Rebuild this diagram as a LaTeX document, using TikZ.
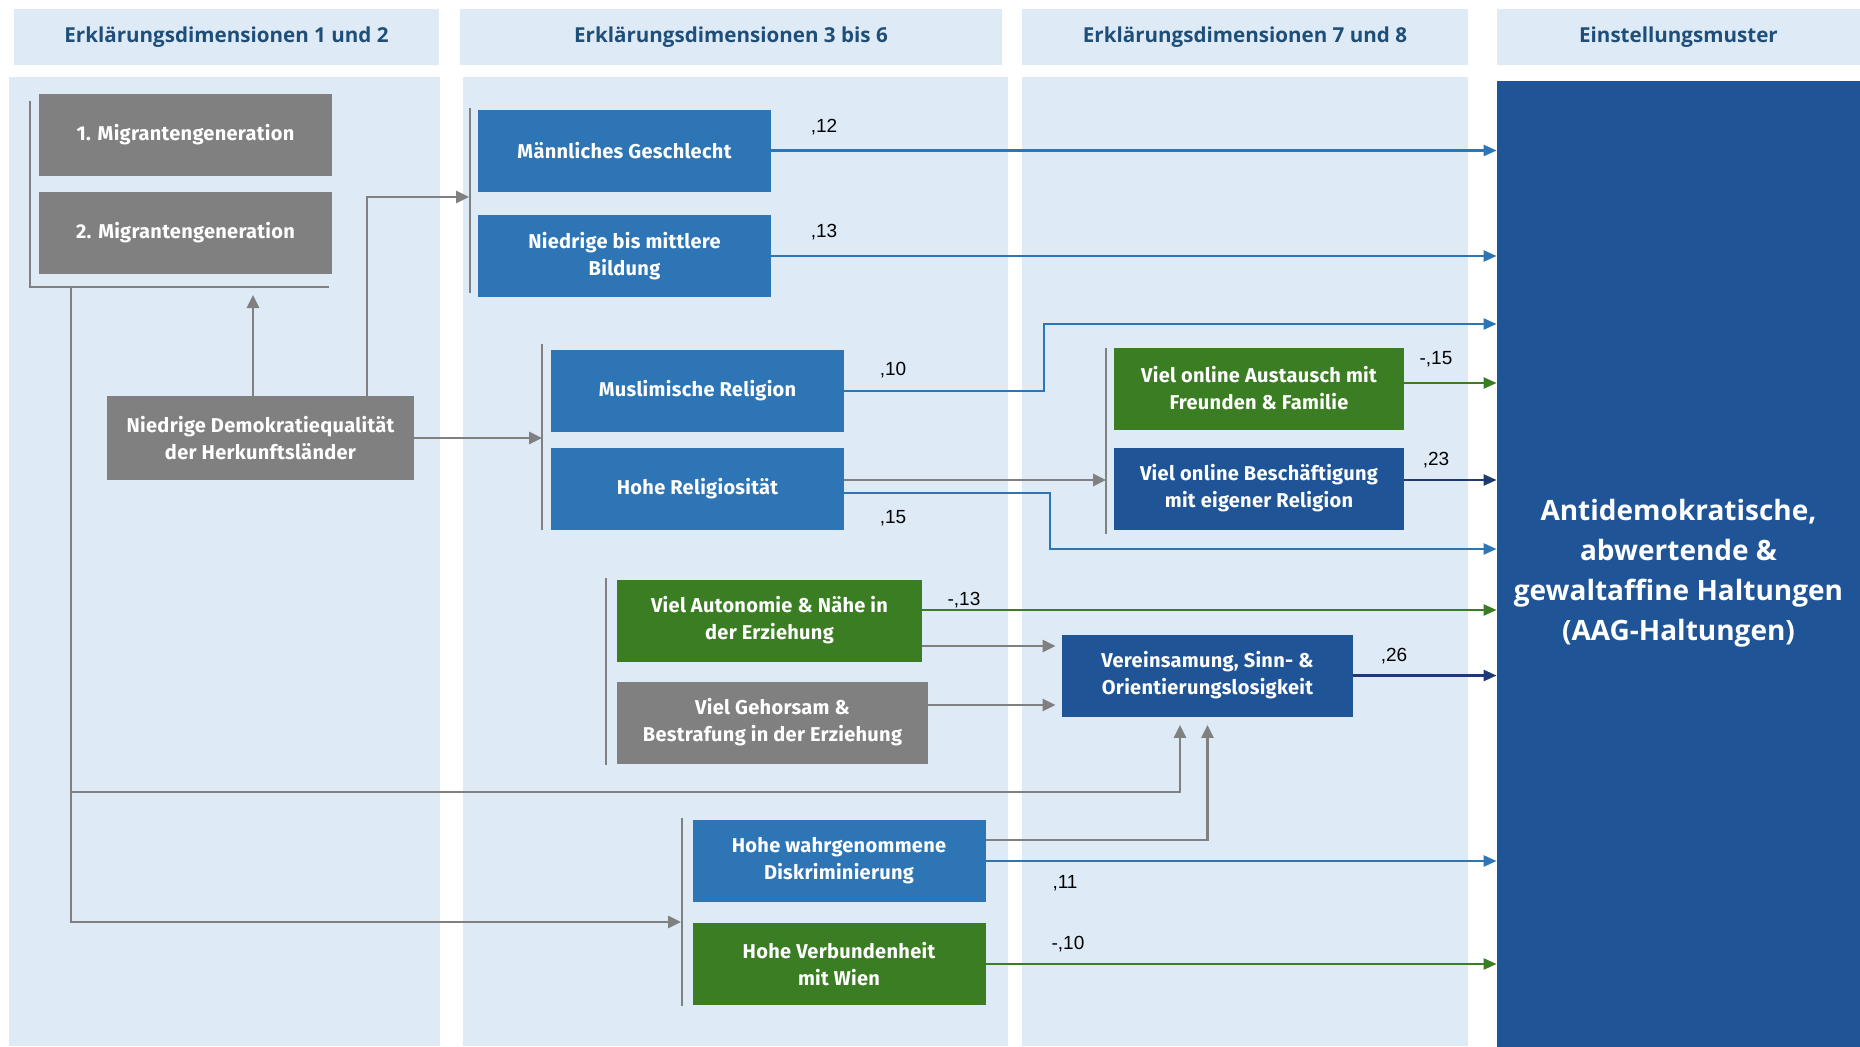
\documentclass[tikz,border=0pt]{standalone}
\usepackage{fontspec}
\usepackage{tikz}
\usetikzlibrary{arrows.meta,positioning}
\setmainfont{Liberation Sans}
\newfontfamily\boxfont{Fira Sans}[LetterSpace=1.5]
\newfontfamily\headfont{Open Sans}
\definecolor{PaleBlue}{HTML}{DEEBF7}
\definecolor{HeadNavy}{HTML}{1F4E79}
\definecolor{BoxGray}{HTML}{808080}
\definecolor{BoxBlue}{HTML}{2E75B6}
\definecolor{BoxGreen}{HTML}{3A7D22}
\definecolor{BoxNavy}{HTML}{1F5597}
\definecolor{LineNavy}{HTML}{1F3A6E}

\begin{document}
\begin{tikzpicture}[
  x=0.5pt, y=-0.5pt,
  factor/.style={
    rectangle,
    text=white,
    align=center,
    minimum width=146.5pt,
    minimum height=41pt,
    inner sep=2pt,
    font=\boxfont\bfseries\fontsize{10pt}{13.5pt}\selectfont
  },
  head/.style={
    fill=PaleBlue,
    text=HeadNavy,
    minimum height=28pt,
    inner sep=0pt,
    font=\headfont\bfseries\fontsize{10.3pt}{12pt}\selectfont
  },
  target/.style={
    fill=BoxNavy,
    text=white,
    align=center,
    minimum width=181.5pt,
    minimum height=492pt,
    inner sep=0pt,
    font=\headfont\bfseries\fontsize{14pt}{20pt}\selectfont
  },
  coef/.style={
    inner sep=0pt,
    font=\fontsize{9.5pt}{11pt}\selectfont
  },
  bracket/.style={
    draw=BoxGray,
    line width=1.4pt
  },
  feed/.style={
    -{Triangle[length=6.5pt,width=6pt]},
    line width=1.4pt,
    draw=BoxGray
  },
  pathblue/.style={
    -{Triangle[length=6.5pt,width=5.5pt]},
    line width=1.2pt,
    draw=BoxBlue
  },
  pathgreen/.style={
    -{Triangle[length=6.5pt,width=5.5pt]},
    line width=1.2pt,
    draw=BoxGreen
  },
  pathnavy/.style={
    -{Triangle[length=6.5pt,width=5.5pt]},
    line width=1.2pt,
    draw=LineNavy
  }
]
\useasboundingbox (0,0) rectangle (1860,1046);

% Column backgrounds
\fill[PaleBlue] (9,77) rectangle (440,1046);
\fill[PaleBlue] (463,77) rectangle (1008,1046);
\fill[PaleBlue] (1022,77) rectangle (1468,1046);

% Headers
\node[head, minimum width=212.5pt] (head1) at (226.5,37) {Erklärungsdimensionen 1 und 2};
\node[head, minimum width=271pt] (head2) at (731,37) {Erklärungsdimensionen 3 bis 6};
\node[head, minimum width=223pt] (head3) at (1245,37) {Erklärungsdimensionen 7 und 8};
\node[head, minimum width=181.5pt] (head4) at (1678.5,37) {Einstellungsmuster};

% Outcome
\node[target] (aag) at (1678.5,573)
  {Antidemokratische,\\abwertende \&\\gewaltaffine Haltungen\\(AAG-Haltungen)};

% Dimensions 1 and 2
\node[factor, fill=BoxGray] (gen1) at (185.5,135) {1. Migrantengeneration};
\node[factor, fill=BoxGray] (gen2) at (185.5,233) {2. Migrantengeneration};
\node[factor, fill=BoxGray, minimum width=153.5pt, minimum height=42pt]
  (demo) at (260.5,438) {Niedrige Demokratiequalität\\der Herkunftsländer};

% Dimensions 3 to 6
\node[factor, fill=BoxBlue] (maennl) at (624.5,150.5) {Männliches Geschlecht};
\node[factor, fill=BoxBlue] (bildung) at (624.5,256) {Niedrige bis mittlere\\Bildung};
\node[factor, fill=BoxBlue] (muslim) at (697.5,391) {Muslimische Religion};
\node[factor, fill=BoxBlue] (relig) at (697.5,488.5) {Hohe Religiosität};
\node[factor, fill=BoxGreen, minimum width=152.5pt]
  (autonomie) at (769.5,620.5) {Viel Autonomie \& Nähe in\\der Erziehung};
\node[factor, fill=BoxGray, minimum width=155.5pt]
  (gehorsam) at (772.5,722.5) {Viel Gehorsam \&\\Bestrafung in der Erziehung};
\node[factor, fill=BoxBlue] (diskr) at (839,861) {Hohe wahrgenommene\\Diskriminierung};
\node[factor, fill=BoxGreen] (wien) at (839,964) {Hohe Verbundenheit\\mit Wien};

% Dimensions 7 and 8
\node[factor, fill=BoxGreen, minimum width=145pt]
  (austausch) at (1259,388.5) {Viel online Austausch mit\\Freunden \& Familie};
\node[factor, fill=BoxNavy, minimum width=145pt]
  (beschaeft) at (1259,488.5) {Viel online Beschäftigung\\mit eigener Religion};
\node[factor, fill=BoxNavy, minimum width=145.5pt]
  (verein) at (1207.5,675.5) {Vereinsamung, Sinn- \&\\Orientierungslosigkeit};

% Brackets
\draw[bracket] (30,101) |- (329,287);
\coordinate (genstem) at (71,287);
\draw[bracket] (470,108) coordinate (brA) -- (470,293);
\draw[bracket] (542,344) coordinate (brB) -- (542,530);
\draw[bracket] (1106,348) coordinate (brC) -- (1106,534);
\draw[bracket] (606,578) coordinate (brD) -- (606,765);
\draw[bracket] (682,818) coordinate (brE) -- (682,1006);
\coordinate (brAin) at (469,197);
\coordinate (brEin) at (681,922);
\coordinate (genmid) at (71,792);
\coordinate (bendMus) at (1044,324);
\coordinate (bendRel) at (1050,549);

% Grey paths
\draw[feed, shorten >=4pt] ([xshift=-3.75pt]demo.north) -- ([xshift=-3.75pt]demo.north |- genstem);
\draw[feed] ([xshift=53.25pt]demo.north) |- (brAin);
\draw[feed] (demo.east) -- (demo.east -| brB);
\draw[feed] (genstem) |- (brEin);
\draw[feed] (genmid) -| ([xshift=-13.75pt,yshift=-4pt]verein.south);
\draw[feed] ([yshift=10.5pt]diskr.east) -| ([yshift=-4pt]verein.south);
\draw[feed] ([yshift=4.25pt]relig.east) -- ([yshift=4.25pt]relig.east -| brC);
\draw[feed, shorten >=3pt] ([yshift=-12.75pt]autonomie.east) -- ([yshift=-12.75pt]autonomie.east -| verein.west);
\draw[feed, shorten >=3pt] ([yshift=8.75pt]gehorsam.east) -- ([yshift=8.75pt]gehorsam.east -| verein.west);

% Effects on AAG
\draw[pathblue] (maennl.east) -- (maennl.east -| aag.west);
\draw[pathblue] (bildung.east) -- (bildung.east -| aag.west);
\draw[pathblue] (muslim.east) -| (bendMus) -- (bendMus -| aag.west);
\draw[pathblue] ([yshift=-2.25pt]relig.east) -| (bendRel) -- (bendRel -| aag.west);
\draw[pathgreen] ([yshift=2.75pt]austausch.east) -- ([yshift=2.75pt]austausch.east -| aag.west);
\draw[pathnavy] ([yshift=4.25pt]beschaeft.east) -- ([yshift=4.25pt]beschaeft.east -| aag.west);
\draw[pathgreen] ([yshift=5.25pt]autonomie.east) -- ([yshift=5.25pt]autonomie.east -| aag.west);
\draw[pathnavy] (verein.east) -- (verein.east -| aag.west);
\draw[pathblue] (diskr.east) -- (diskr.east -| aag.west);
\draw[pathgreen] (wien.east) -- (wien.east -| aag.west);

% Coefficients
\node[coef] (cMaennl) at (824,127) {,12};
\node[coef] (cBildung) at (824,232) {,13};
\node[coef] (cMuslim) at (893,370) {,10};
\node[coef] (cRelig) at (893,518) {,15};
\node[coef] (cAustausch) at (1436,359) {-,15};
\node[coef] (cBeschaeft) at (1436,460) {,23};
\node[coef] (cAutonomie) at (964,600) {-,13};
\node[coef] (cVerein) at (1394,656) {,26};
\node[coef] (cDiskr) at (1065,883) {,11};
\node[coef] (cWien) at (1068,944) {-,10};

\end{tikzpicture}
\end{document}
